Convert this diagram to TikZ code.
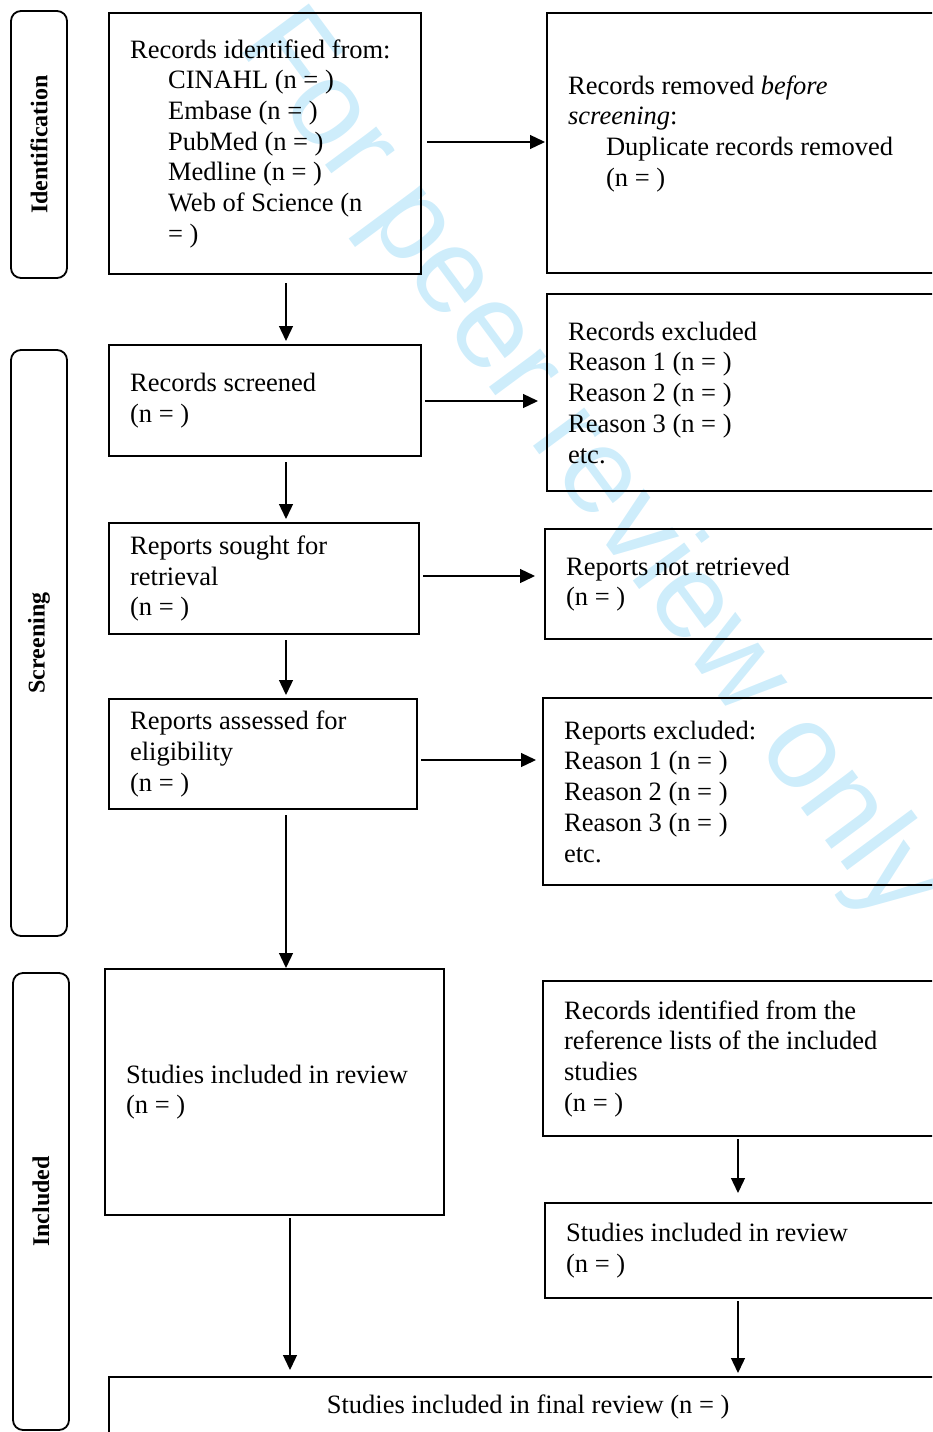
\documentclass[tikz,border=0pt]{standalone}
\usepackage{fontspec}
\setmainfont{Liberation Serif}
\newfontfamily\wmfont{Liberation Sans}
\usepackage{xcolor}
\usetikzlibrary{arrows.meta}
\definecolor{wmcyan}{RGB}{206,237,251}

\begin{document}
\begin{tikzpicture}[x=1pt,y=-1pt,
    every node/.append style={font=\fontsize{26.5}{30.7}\selectfont},
    box/.style={draw,line width=2.2pt,anchor=north west,inner xsep=21pt,inner ysep=0pt,align=left,
        execute at begin node={\spaceskip=6.6pt\xspaceskip=6.6pt\relax}},
    boxsize/.style 2 args={minimum width=#1pt,minimum height=#2pt,text width=#1pt-42pt},
    stage/.style={draw,line width=1.8pt,rounded corners=10pt,rotate=90,minimum height=56pt,
        font=\fontsize{24}{28}\selectfont\bfseries},
    flow/.style={-{Triangle[length=15pt,width=14pt]},line width=1.3pt,shorten <=5pt,shorten >=3pt},
    wmark/.style={text=wmcyan,rotate=-53.5,font=\fontsize{121}{124}\wmfont}]
    \path[use as bounding box] (0,0) rectangle (932,1432);
    \clip (0,0) rectangle (932,1432);

    \node[wmark] (wm) at (588,467) {For peer review only};

    \node[stage,minimum width=267pt] (ident) at (39,144.5) {Identification};
    \node[stage,minimum width=586pt] (screen) at (39,643) {Screening};
    \node[stage,minimum width=457pt] (incl) at (41,1201.5) {Included};

    \node[box,boxsize={312}{261}] (found) at (108,12) {Records identified from:\\
        \hspace*{38pt}CINAHL (n = )\\
        \hspace*{38pt}Embase (n = )\\
        \hspace*{38pt}PubMed (n = )\\
        \hspace*{38pt}Medline (n = )\\
        \hspace*{38pt}Web of Science (n\\
        \hspace*{38pt}= )};
    \node[box,boxsize={400}{260}] (dupl) at (546,12) {Records removed \textit{before}\\
        \textit{screening}:\\
        \hspace*{38pt}Duplicate records removed\\
        \hspace*{38pt}(n = )\\[-6pt]\mbox{}};

    \node[box,boxsize={312}{111}] (scrd) at (108,344) {Records screened\\(n = )};
    \node[box,boxsize={400}{197}] (recex) at (546,293) {Records excluded\\
        Reason 1 (n = )\\Reason 2 (n = )\\Reason 3 (n = )\\etc.};

    \node[box,boxsize={310}{111}] (sought) at (108,522) {Reports sought for\\retrieval\\(n = )};
    \node[box,boxsize={400}{110}] (notret) at (544,528) {Reports not retrieved\\(n = )};

    \node[box,boxsize={308}{110}] (assess) at (108,698) {Reports assessed for\\eligibility\\(n = )};
    \node[box,boxsize={404}{187}] (repex) at (542,697) {Reports excluded:\\
        Reason 1 (n = )\\Reason 2 (n = )\\Reason 3 (n = )\\etc.};

    \node[box,boxsize={339}{246}] (studies) at (104,968) {Studies included in review\\(n = )};
    \node[box,boxsize={404}{155}] (reflist) at (542,980) {Records identified from the\\
        reference lists of the included\\studies\\(n = )};
    \node[box,boxsize={402}{95}] (refstud) at (544,1202) {Studies included in review\\(n = )};

    \node[box,boxsize={838}{60},align=center] (final) at (108,1376) {Studies included in final review (n = )};

    \coordinate (spine) at (286,0);
    \coordinate (spinelow) at (290,0);
    \coordinate (spineright) at (738,0);

    \draw[flow,shorten >=1pt] (found.east |- 0,142) -- (dupl.west |- 0,142);
    \draw[flow,shorten <=3pt,shorten >=8pt] (scrd.east |- 0,401) -- (recex.west |- 0,401);
    \draw[flow,shorten <=3pt,shorten >=9pt] (sought.east |- 0,576) -- (notret.west |- 0,576);
    \draw[flow,shorten <=3pt,shorten >=6pt] (assess.east |- 0,760) -- (repex.west |- 0,760);

    \draw[flow,shorten <=8pt] (found.south -| spine) -- (scrd.north -| spine);
    \draw[flow] (scrd.south -| spine) -- (sought.north -| spine);
    \draw[flow] (sought.south -| spine) -- (assess.north -| spine);
    \draw[flow,shorten >=0pt] (assess.south -| spine) -- (studies.north -| spine);
    \draw[flow,shorten <=2pt,shorten >=6pt] (studies.south -| spinelow) -- (final.north -| spinelow);
    \draw[flow,shorten <=2pt,shorten >=9pt] (reflist.south -| spineright) -- (refstud.north -| spineright);
    \draw[flow,shorten <=2pt] (refstud.south -| spineright) -- (final.north -| spineright);
\end{tikzpicture}
\end{document}
